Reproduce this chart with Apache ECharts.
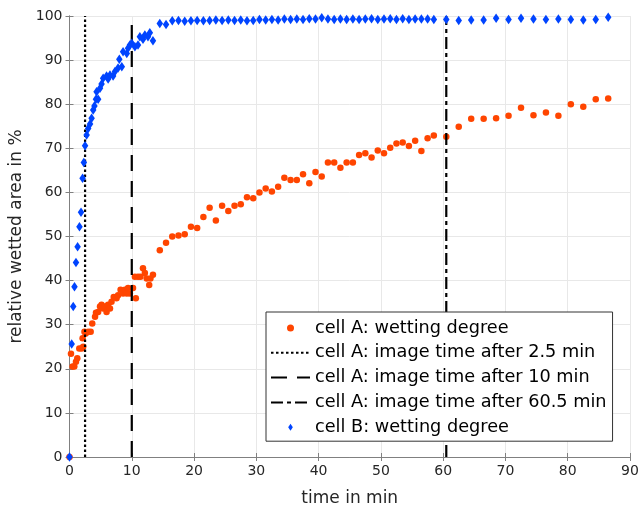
<!DOCTYPE html>
<html>
<head>
<meta charset="utf-8">
<script src="https://cdn.jsdelivr.net/npm/echarts@6/dist/echarts.min.js"></script>
<style>
  html, body { margin: 0; padding: 0; background: #fff; }
  #chart { width: 642px; height: 509px; }
</style>
</head>
<body>
<div id="chart"></div>
<script>
const xTicks = [0, 90, 10];
const yTicks = [0, 100, 10];

// cell A: wetting degree
const timeA = [0, 0.24, 0.5, 0.77, 1.04, 1.25, 1.57, 1.95, 2.1, 2.2, 2.4, 2.6, 3.0, 3.4, 3.65, 4.1, 4.25, 4.6, 4.9, 5.15,
  5.4, 5.7, 5.95, 6.2, 6.5, 6.75, 7.1, 7.55, 7.8, 8.2, 8.6, 8.9, 9.2, 9.4, 9.7, 10.2, 10.5, 10.65, 11.0, 11.4,
  11.8, 12.1, 12.4, 12.8, 13.0, 13.4,
  14.5, 15.5, 16.5, 17.5, 18.5, 19.5, 20.5, 21.5, 22.5, 23.5, 24.5, 25.5, 26.5, 27.5, 28.5, 29.5, 30.5, 31.5, 32.5, 33.5,
  34.5, 35.5, 36.5, 37.5, 38.5, 39.5, 40.5, 41.5, 42.5, 43.5, 44.5, 45.5, 46.5, 47.5, 48.5, 49.5, 50.5, 51.5, 52.5, 53.5,
  54.5, 55.5, 56.5, 57.5, 58.5,
  60.5, 62.5, 64.5, 66.5, 68.5, 70.5, 72.5, 74.5, 76.5, 78.5, 80.5, 82.5, 84.5, 86.5];
const wettingA = [0, 23.4, 20.5, 20.5, 21.6, 22.4, 24.6, 24.6, 26.9, 25, 28.4, 28, 28.4, 28.4, 30.3, 31.8, 32.7, 32.9, 34.1, 34.5,
  33.7, 34.1, 32.9, 34.5, 33.7, 35.2, 36.3, 36, 36.7, 37.9, 37.1, 37.9, 37.1, 38.3, 37.1, 38.3, 40.9, 36, 40.9, 40.9,
  42.8, 41.7, 40.5, 39, 40.5, 41.3,
  46.9, 48.6, 50, 50.2, 50.5, 52.2, 51.9, 54.4, 56.5, 53.6, 57, 55.8, 57, 57.3, 58.9, 58.7, 60, 60.9, 60.2, 61.3,
  63.3, 62.8, 62.8, 64.1, 62.1, 64.6, 63.6, 66.8, 66.8, 65.6, 66.8, 66.8, 68.5, 68.9, 67.9, 69.5, 68.9, 70.1, 71.1, 71.3,
  70.5, 71.7, 69.4, 72.3, 72.9,
  72.6, 74.9, 76.7, 76.7, 76.8, 77.4, 79.2, 77.5, 78.1, 77.4, 80.0, 79.4, 81.1, 81.3];

// cell B: wetting degree
const timeB = [0, 0.35, 0.6, 0.8, 1.04, 1.3, 1.6, 1.85, 2.1, 2.3, 2.5, 2.75, 3.0, 3.3, 3.55, 3.8, 4.0, 4.25, 4.35, 4.6,
  4.9, 5.15, 5.4, 5.95, 6.2, 6.5, 7.0, 7.3, 7.8, 8.0, 8.4, 8.6, 9.2, 9.4, 9.7, 10.0, 10.5, 11.0, 11.3, 11.8,
  12.1, 12.6, 12.9, 13.4,
  14.5, 15.5, 16.5, 17.5, 18.5, 19.5, 20.5, 21.5, 22.5, 23.5, 24.5, 25.5, 26.5, 27.5, 28.5, 29.5, 30.5, 31.5, 32.5, 33.5,
  34.5, 35.5, 36.5, 37.5, 38.5, 39.5, 40.5, 41.5, 42.5, 43.5, 44.5, 45.5, 46.5, 47.5, 48.5, 49.5, 50.5, 51.5, 52.5, 53.5,
  54.5, 55.5, 56.5, 57.5, 58.5,
  60.5, 62.5, 64.5, 66.5, 68.5, 70.5, 72.5, 74.5, 76.5, 78.5, 80.5, 82.5, 84.5, 86.5];
const wettingB = [0, 25.6, 34.1, 38.6, 44.1, 47.7, 52.2, 55.5, 63.2, 66.8, 70.6, 73, 74.5, 75.5, 76.8, 78.7, 79.6, 81.1, 82.8, 81.1,
  83.6, 84.6, 85.9, 86.4, 85.7, 86.6, 86.4, 87.4, 88.2, 90.2, 88.5, 91.9, 91.5, 92.7, 93.4, 93.8, 93.0, 93.4, 95.3, 94.7,
  95.7, 95.3, 96.2, 94.4,
  98.3, 98.1, 98.9, 99.0, 98.8, 98.9, 99.0, 98.9, 99.0, 99.1, 99.0, 99.1, 99.0, 99.1, 98.9, 99.0, 99.2, 99.1, 99.2, 99.1,
  99.3, 99.2, 99.3, 99.2, 99.4, 99.3, 99.6, 99.3, 99.2, 99.3, 99.2, 99.3, 99.2, 99.3, 99.4, 99.2, 99.3, 99.4, 99.2, 99.4,
  99.2, 99.3, 99.3, 99.3, 99.2,
  99.2, 99.0, 99.1, 99.1, 99.5, 99.2, 99.5, 99.3, 99.2, 99.3, 99.2, 99.1, 99.2, 99.7];

// image times (vertical markers), from 0 to 100 %
const imageTimes = [2.5, 10, 60.5];
const imageNames = [
  'cell A: image time after 2.5 min',
  'cell A: image time after 10 min',
  'cell A: image time after 60.5 min',
];
const imageDash = [[2.5, 2.5], [16, 10], [12, 4, 4, 4]];

const FONT = 'DejaVu Sans';
const TEXT = '#262626';
const AXIS = '#808080';

function pairs(xs, ys) {
  return xs.map((x, i) => [x, ys[i]]);
}

const chart = echarts.init(document.getElementById('chart'), null, { renderer: 'canvas' });

const commonAxis = {
  axisLine: { show: true, lineStyle: { color: AXIS, width: 1 } },
  axisTick: { show: true, inside: true, length: 4, lineStyle: { color: AXIS } },
};

const lineSeries = imageTimes.map((t, i) => ({
  name: imageNames[i],
  type: 'line',
  data: [[t, yTicks[0]], [t, yTicks[1]]],
  symbol: 'none',
  silent: true,
  lineStyle: { color: '#000', width: 2.2, type: imageDash[i] },
  z: 3,
}));

// legend entries for the vertical lines: line only, no marker
const lineLegend = imageNames.map((name) => ({
  name,
  itemStyle: { color: 'rgba(0,0,0,0)', borderWidth: 0, opacity: 0 },
}));

chart.setOption({
  backgroundColor: '#fff',
  animation: false,
  grid: { left: 69.5, right: 12, top: 16, bottom: 52, containLabel: false, outerBoundsMode: 'none' },
  legend: {
    orient: 'vertical',
    left: 266,
    top: 312,
    padding: [7, 6, 5, 4],
    itemWidth: 39,
    itemHeight: 7,
    itemGap: 6.8,
    backgroundColor: '#fff',
    borderColor: '#333',
    borderWidth: 1,
    borderRadius: 0,
    selectedMode: false,
    textStyle: { fontFamily: FONT, fontSize: 17.7, color: '#000' },
    data: [
      { name: 'cell A: wetting degree', icon: 'circle' },
      ...lineLegend,
      { name: 'cell B: wetting degree', icon: 'path://M0,-3L2,0L0,3L-2,0Z' },
    ],
  },
  xAxis: [
    {
      type: 'value',
      min: xTicks[0], max: xTicks[1], interval: xTicks[2],
      name: 'time in min',
      nameLocation: 'middle',
      nameGap: 33,
      nameTextStyle: { fontFamily: FONT, fontSize: 17, color: TEXT },
      axisLabel: { fontFamily: FONT, fontSize: 14, color: TEXT, margin: 7 },
      splitLine: { show: true, lineStyle: { color: '#e8e8e8', width: 1 } },
      ...commonAxis,
    },
    {
      type: 'value', position: 'top',
      min: xTicks[0], max: xTicks[1], interval: xTicks[2],
      axisLabel: { show: false },
      splitLine: { show: false },
      ...commonAxis,
    },
  ],
  yAxis: [
    {
      type: 'value',
      min: yTicks[0], max: yTicks[1], interval: yTicks[2],
      name: 'relative wetted area in %',
      nameLocation: 'middle',
      nameGap: 42,
      nameTextStyle: { fontFamily: FONT, fontSize: 17, color: TEXT },
      axisLabel: { fontFamily: FONT, fontSize: 14, color: TEXT, margin: 7 },
      splitLine: { show: true, lineStyle: { color: '#e8e8e8', width: 1 } },
      ...commonAxis,
    },
    {
      type: 'value', position: 'right',
      min: yTicks[0], max: yTicks[1], interval: yTicks[2],
      axisLabel: { show: false },
      splitLine: { show: false },
      ...commonAxis,
    },
  ],
  series: [
    {
      name: 'cell A: wetting degree',
      type: 'scatter',
      data: pairs(timeA, wettingA),
      symbol: 'circle',
      symbolSize: 6.5,
      itemStyle: { color: '#ff4500', opacity: 1 },
      z: 2,
    },
    ...lineSeries,
    {
      name: 'cell B: wetting degree',
      type: 'scatter',
      data: pairs(timeB, wettingB),
      symbol: 'diamond',
      symbolSize: [6.5, 9.5],
      symbolKeepAspect: true,
      itemStyle: { color: '#0044ff', opacity: 1 },
      z: 4,
    },
  ],
});
</script>
</body>
</html>
